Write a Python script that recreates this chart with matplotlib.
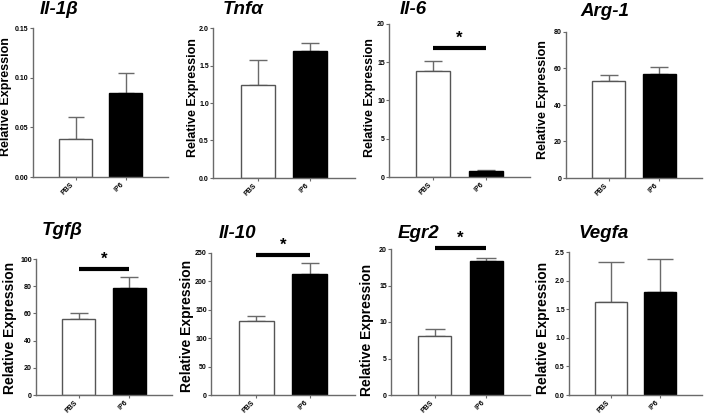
import numpy as np
import matplotlib.pyplot as plt

plt.rcParams['font.family'] = ['Liberation Sans', 'DejaVu Sans']

genes = ['Il-1β', 'Tnfα', 'Il-6', 'Arg-1', 'Tgfβ', 'Il-10', 'Egr2', 'Vegfa']
groups = ['PBS', 'IP6']
pbs_mean = [0.038, 1.24, 13.9, 53, 56, 130, 8.1, 1.62]
pbs_err = [0.022, 0.33, 1.3, 3.3, 4.2, 9, 0.9, 0.71]
ip6_mean = [0.085, 1.69, 0.8, 57, 79, 213, 18.3, 1.80]
ip6_err = [0.020, 0.11, 0.1, 4.0, 7.5, 20, 0.5, 0.58]
ymax = [0.15, 2.0, 20, 80, 100, 250, 20, 2.5]
ystep = [0.05, 0.5, 5, 20, 20, 50, 5, 0.5]
yfmt = ['%.2f', '%.1f', '%d', '%d', '%d', '%d', '%d', '%.1f']
sig_y = [None, None, 16.9, None, 92.5, 246, 20.1, None]

W, H = 709, 415
# axes boxes in pixels: left, top, right, bottom
boxes = [(33, 28, 168, 177), (213, 28, 355, 178), (389, 24, 530, 177), (566, 32, 702, 178),
         (36, 259, 172, 395), (211, 253, 355, 395), (391, 249, 530, 395), (569, 252, 702, 395)]
title_pos = [(59, 10), (243, 10), (413, 10), (605, 11),
             (62, 230), (237, 233), (418, 233), (604, 233)]
ylab_pos = [(6, 97), (193, 98), (370, 98), (543, 100),
            (10, 328), (187, 326), (367, 330), (543, 328)]
ylab_size = [9, 9, 9, 9, 10, 10, 10, 10]
caps = [6, 6.5, 6.5, 6.5, 6.5, 6.5, 7, 9.5]

fig = plt.figure(figsize=(W / 100, H / 100), dpi=100)
grey = '#6a6a6a'

for i, g in enumerate(genes):
    l, t, r, b = boxes[i]
    ax = fig.add_axes([l / W, 1 - b / H, (r - l) / W, (b - t) / H])
    x = np.arange(2)
    means = [pbs_mean[i], ip6_mean[i]]
    errs = [pbs_err[i], ip6_err[i]]
    ax.bar(x, means, width=0.65, color=['white', 'black'], edgecolor=['#555555', 'black'],
           linewidth=1.0, zorder=2)
    ax.errorbar(x, means, yerr=[[0, 0], errs], fmt='none', ecolor=grey, elinewidth=1.0,
                capsize=caps[i], capthick=1.0, zorder=1)
    ax.set_xlim(-0.85, 1.85)
    ax.set_ylim(0, ymax[i])
    ticks = np.arange(0, ymax[i] + ystep[i] / 2, ystep[i])
    ax.set_yticks(ticks)
    ax.set_yticklabels([yfmt[i] % v for v in ticks], fontsize=5, fontweight='bold')
    ax.set_xticks(x)
    ax.set_xticklabels(groups, rotation=45, fontsize=5, fontweight='bold', ha='right')
    ax.tick_params(axis='both', colors=grey, labelcolor='black', length=2, width=0.8, pad=1)
    for s in ['top', 'right']:
        ax.spines[s].set_visible(False)
    for s in ['left', 'bottom']:
        ax.spines[s].set_color(grey)
        ax.spines[s].set_linewidth(1.0)
    if sig_y[i] is not None:
        ax.plot([0, 1], [sig_y[i], sig_y[i]], color='black', linewidth=3, clip_on=False,
                solid_capstyle='butt')
        ax.text(0.5, sig_y[i] + ymax[i] * 0.015, '*', ha='center', va='bottom',
                fontsize=12, fontweight='bold', clip_on=False)
    tx, ty = title_pos[i]
    fig.text(tx / W, 1 - ty / H, g, ha='center', va='center', fontsize=13.5,
             fontweight='bold', fontstyle='italic')
    lx, ly = ylab_pos[i]
    fig.text(lx / W, 1 - ly / H, 'Relative Expression', rotation=90, ha='center',
             va='center', fontsize=ylab_size[i], fontweight='bold')

fig.savefig('out.png', dpi=100)
